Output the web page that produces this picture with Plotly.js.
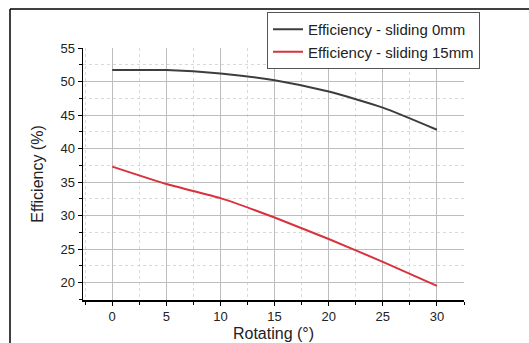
<!DOCTYPE html>
<html>
<head>
<meta charset="utf-8">
<script src="https://cdn.plot.ly/plotly-3.0.1.min.js"></script>
<style>html,body{margin:0;padding:0;background:#fff;}#chart{width:529px;height:343px;}</style>
</head>
<body>
<div id="chart"></div>
<script>
const rotating = [0, 5, 10, 15, 20, 25, 30];
const effSliding0 = [51.7, 51.7, 51.2, 50.2, 48.5, 46.1, 42.8];
const effSliding15 = [37.3, 34.7, 32.6, 29.7, 26.5, 23.1, 19.5];
const seriesNames = ['Efficiency - sliding 0mm', 'Efficiency - sliding 15mm'];
const xTicks = [0, 5, 10, 15, 20, 25, 30];
const yTicks = [20, 25, 30, 35, 40, 45, 50, 55];

const W = 529, H = 343;
const m = {l: 83, r: 65, t: 48, b: 43};
const pw = W - m.l - m.r, ph = H - m.t - m.b;
const px = v => (v - m.l) / pw;
const py = v => (H - m.b - v) / ph;
const FONT = 'Liberation Sans, Arial, sans-serif';

const traces = [
  {x: rotating, y: effSliding0, name: seriesNames[0], type: 'scatter', mode: 'lines',
   line: {color: '#3d3d3d', width: 2, shape: 'spline', smoothing: 0.6}},
  {x: rotating, y: effSliding15, name: seriesNames[1], type: 'scatter', mode: 'lines',
   line: {color: '#d8323c', width: 2, shape: 'spline', smoothing: 0.4}}
];

const axisCommon = {
  showline: true, linecolor: '#000', linewidth: 1.5,
  ticks: 'outside', ticklen: 4, tickwidth: 1, tickcolor: '#000',
  showgrid: true, gridcolor: '#bdbdbd', gridwidth: 1,
  zeroline: false, mirror: false,
  tickfont: {family: FONT, size: 13, color: '#222'}
};

const layout = {
  width: W, height: H, margin: m,
  paper_bgcolor: '#fff', plot_bgcolor: '#fff',
  showlegend: true,
  legend: {x: px(267), y: py(12), xanchor: 'left', yanchor: 'top',
    bordercolor: '#555', borderwidth: 1, bgcolor: '#fff',
    font: {family: FONT, size: 15, color: '#222'},
    tracegroupgap: 0, itemwidth: 30},
  xaxis: Object.assign({}, axisCommon, {
    range: [-2.7, 32.5], tickvals: xTicks,
    minor: {dtick: 2.5, tick0: 0, showgrid: true, gridcolor: '#d9d9d9', griddash: 'dot',
            ticks: 'outside', ticklen: 3, tickcolor: '#000'},
    title: {text: 'Rotating (°)', standoff: 4,
      font: {family: FONT, size: 16, color: '#222'}}
  }),
  yaxis: Object.assign({}, axisCommon, {
    range: [17.4, 55], tickvals: yTicks,
    minor: {dtick: 2.5, tick0: 0, showgrid: true, gridcolor: '#d9d9d9', griddash: 'dot',
            ticks: 'outside', ticklen: 3, tickcolor: '#000'},
    title: {text: 'Efficiency (%)', standoff: 13,
      font: {family: FONT, size: 16, color: '#222'}}
  }),
  shapes: [
    {type: 'line', xref: 'paper', yref: 'paper', x0: px(10), x1: px(10), y0: py(H + 5), y1: py(9),
     line: {color: '#000', width: 1.5}},
    {type: 'line', xref: 'paper', yref: 'paper', x0: px(10), x1: px(W + 5), y0: py(9), y1: py(9),
     line: {color: '#000', width: 1.5}}
  ]
};

Plotly.newPlot('chart', traces, layout, {displayModeBar: false, staticPlot: true});
</script>
</body>
</html>
